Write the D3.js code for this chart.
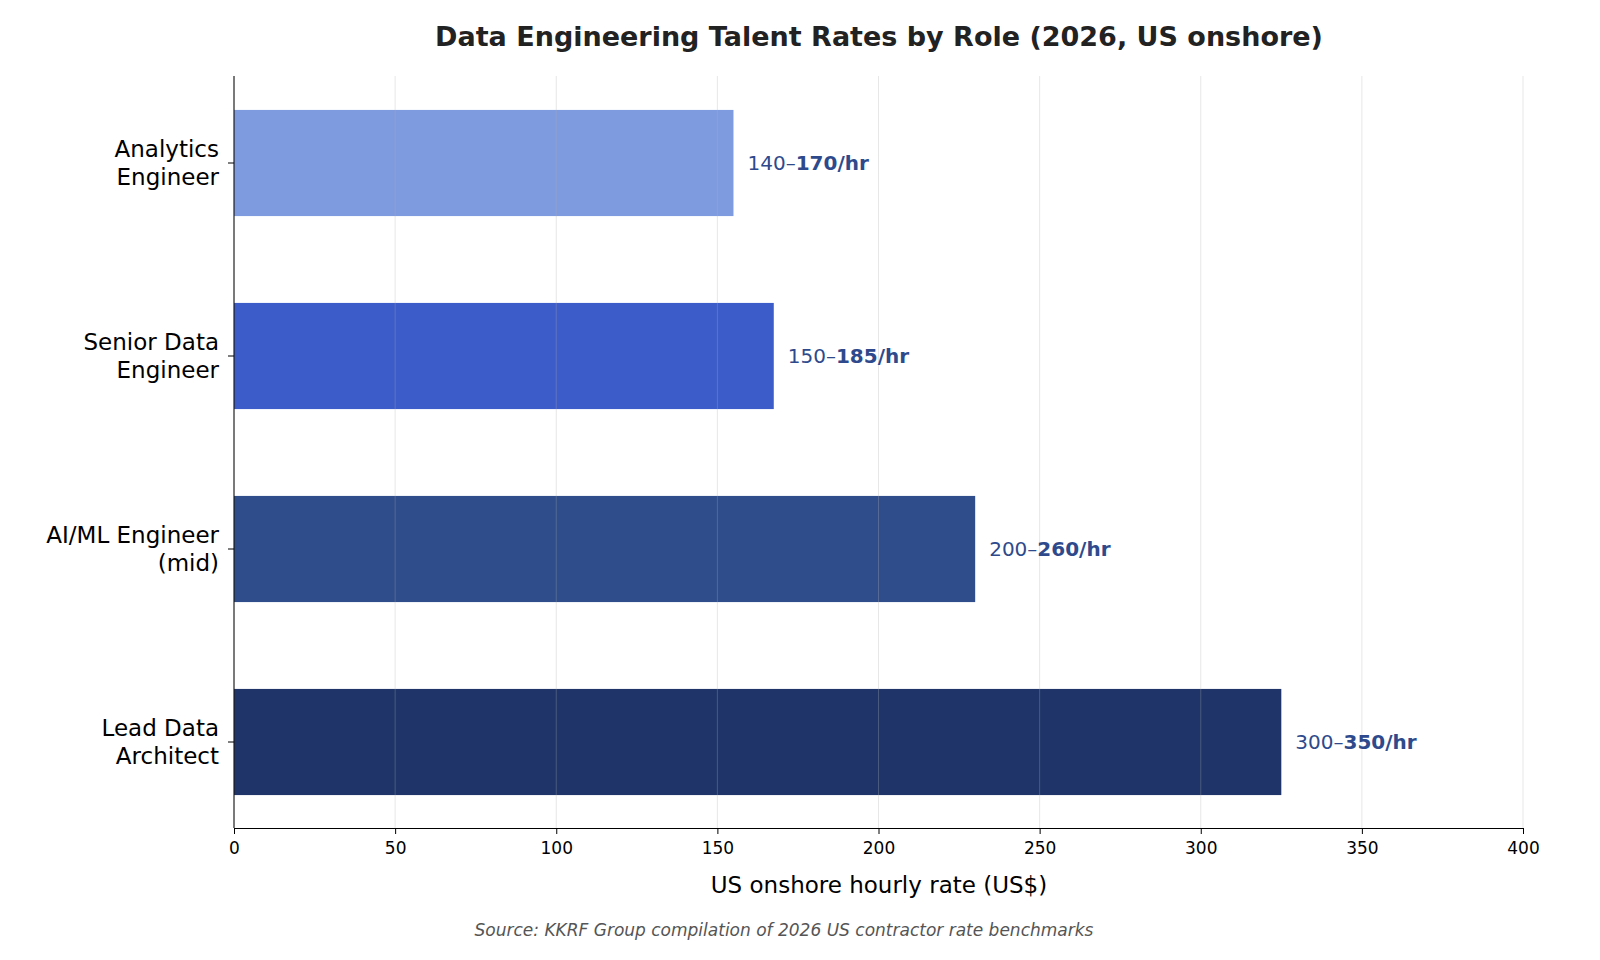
<!DOCTYPE html>
<html><head><meta charset="utf-8">
<script src="https://cdn.jsdelivr.net/npm/d3@7"></script>
<style>body{margin:0;background:#fff}text{font-family:"DejaVu Sans",sans-serif}</style>
</head><body><svg id="c" width="1600" height="960"></svg>
<script>
const roles = [["Analytics", "Engineer"], ["Senior Data", "Engineer"], ["AI/ML Engineer", "(mid)"], ["Lead Data", "Architect"]];
const lows = [140, 150, 200, 300];
const highs = [170, 185, 260, 350];
const colors = ["#7f9be0", "#3c5dc9", "#2e4d8a", "#1f3569"];
const xTicks = [0, 50, 100, 150, 200, 250, 300, 350, 400];

const svg = d3.select("#c");
const plotL = 234, plotR = 1523, plotT = 76, plotB = 828;
const x = d3.scaleLinear().domain([0, 400]).range([plotL, plotR]);
const y = d3.scaleBand().domain(d3.range(roles.length)).range([66.5, 838.5]).paddingInner(0.45).paddingOuter(0.225);

svg.append("text").attr("x", 879).attr("y", 46).attr("text-anchor", "middle")
  .attr("font-size", 27).attr("font-weight", "bold").attr("fill", "#222")
  .text("Data Engineering Talent Rates by Role (2026, US onshore)");

svg.append("g").selectAll("rect").data(roles).join("rect")
  .attr("x", x(0)).attr("y", (d, i) => y(i)).attr("height", y.bandwidth())
  .attr("width", (d, i) => x((lows[i] + highs[i]) / 2) - x(0))
  .attr("fill", (d, i) => colors[i]);

svg.append("g").selectAll("line").data(xTicks).join("line")
  .attr("x1", d => x(d)).attr("x2", d => x(d)).attr("y1", plotT).attr("y2", plotB)
  .attr("stroke", "#b0b0b0").attr("stroke-opacity", 0.3);

const lab = svg.append("g").selectAll("text").data(roles).join("text")
  .attr("x", (d, i) => x((lows[i] + highs[i]) / 2) + 14)
  .attr("y", (d, i) => y(i) + y.bandwidth() / 2).attr("dy", "0.35em")
  .attr("font-size", 20).attr("fill", "#2e4a8c");
lab.append("tspan").text((d, i) => lows[i] + "–");
lab.append("tspan").attr("font-weight", "bold").text((d, i) => highs[i] + "/hr");

const xa = svg.append("g").attr("transform", `translate(0,${plotB})`)
  .call(d3.axisBottom(x).tickValues(xTicks).tickSizeOuter(0));
xa.selectAll("text").attr("font-size", 17).attr("fill", "#000").attr("dy", "1em");
xa.select(".domain").attr("stroke", "#000");

svg.append("line").attr("x1", plotL).attr("x2", plotL).attr("y1", plotT).attr("y2", plotB).attr("stroke", "#000");
const yl = svg.append("g");
roles.forEach((r, i) => {
  const cy = y(i) + y.bandwidth() / 2;
  yl.append("line").attr("x1", plotL - 6).attr("x2", plotL).attr("y1", cy).attr("y2", cy).attr("stroke", "#000");
  const t = yl.append("text").attr("x", plotL - 15).attr("text-anchor", "end").attr("font-size", 23).attr("fill", "#000");
  t.append("tspan").attr("x", plotL - 15).attr("y", cy - 6).text(r[0]);
  t.append("tspan").attr("x", plotL - 15).attr("y", cy + 22).text(r[1]);
});

svg.append("text").attr("x", 879).attr("y", 893).attr("text-anchor", "middle")
  .attr("font-size", 23).attr("fill", "#000").text("US onshore hourly rate (US$)");
svg.append("text").attr("x", 784).attr("y", 936).attr("text-anchor", "middle")
  .attr("font-size", 17).attr("font-style", "italic").attr("fill", "#555")
  .text("Source: KKRF Group compilation of 2026 US contractor rate benchmarks");
</script></body></html>
